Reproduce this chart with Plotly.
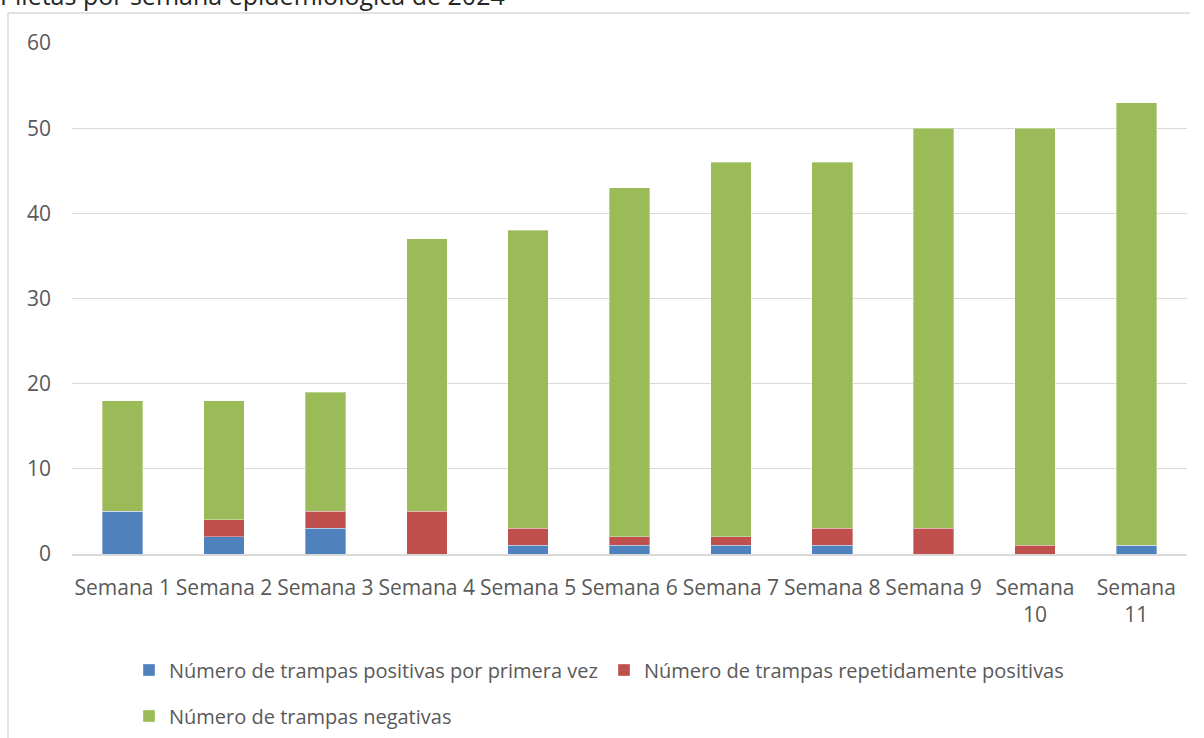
import plotly.graph_objects as go

# datos por semana epidemiologica
semanas = ["Semana 1", "Semana 2", "Semana 3", "Semana 4", "Semana 5", "Semana 6",
           "Semana 7", "Semana 8", "Semana 9", "Semana 10", "Semana 11"]
positivas_primera = [5, 2, 3, 0, 1, 1, 1, 1, 0, 0, 1]
positivas_repetidas = [0, 2, 2, 5, 2, 1, 1, 2, 3, 1, 0]
negativas = [13, 14, 14, 32, 35, 41, 44, 43, 47, 49, 52]

y_ticks = [0, 10, 20, 30, 40, 50, 60]

# las semanas de dos cifras se parten en dos lineas como en el original
tick_text = [s.replace(" ", "<br>") if len(s) > 8 else s for s in semanas]

FONT = "Open Sans"
GRIS = "#595959"
BORDE = "#d9d9d9"

fig = go.Figure()
fig.add_trace(go.Bar(x=semanas, y=positivas_primera,
                     name="Número de trampas positivas por primera vez",
                     marker=dict(color="#4F81BD", line=dict(color="rgba(255,255,255,0.35)", width=1)),
                     legend="legend"))
fig.add_trace(go.Bar(x=semanas, y=positivas_repetidas,
                     name="Número de trampas repetidamente positivas",
                     marker=dict(color="#C0504D", line=dict(color="rgba(255,255,255,0.35)", width=1)),
                     legend="legend"))
fig.add_trace(go.Bar(x=semanas, y=negativas,
                     name="Número de trampas negativas",
                     marker=dict(color="#9BBB59", line=dict(color="rgba(255,255,255,0.35)", width=1)),
                     legend="legend2"))

# area del grafico fija en pixeles
L, R, T, B = 72, 17, 43, 184
pw, ph = 1204 - L - R, 738 - T - B
def px(x):
    return (x - L) / pw
def py(y):
    return (738 - B - y) / ph

# marco del grafico (solo borde izquierdo y superior se ven)
fig.add_shape(type="line", xref="paper", yref="paper",
              x0=px(8), x1=px(1190), y0=py(13), y1=py(13),
              line=dict(color=BORDE, width=1.5))
fig.add_shape(type="line", xref="paper", yref="paper",
              x0=px(8), x1=px(8), y0=py(13), y1=py(745),
              line=dict(color=BORDE, width=1.5))

# titulo cortado arriba como en la captura
fig.add_annotation(text="Piletas por semana epidemiológica de 2024",
                   xref="paper", yref="paper", x=px(-2), y=py(14),
                   xanchor="left", yanchor="bottom", showarrow=False,
                   font=dict(family=FONT, size=25, color="#262626"))

fig.update_layout(
    width=1204, height=738,
    barmode="stack", bargap=0.6,
    plot_bgcolor="white", paper_bgcolor="white",
    margin=dict(l=L, r=R, t=T, b=B, autoexpand=False),
    font=dict(family=FONT, size=20, color=GRIS),
    showlegend=True,
    xaxis=dict(tickmode="array", tickvals=semanas, ticktext=tick_text,
               showgrid=False, showline=True, linecolor=BORDE, linewidth=1.5,
               ticks="", ticklabelstandoff=14, automargin=False,
               tickfont=dict(size=21, color=GRIS)),
    yaxis=dict(range=[0, 60], tickvals=y_ticks, showgrid=True,
               gridcolor=BORDE, gridwidth=1.3, zeroline=False,
               showline=False, ticks="", ticklabelstandoff=20, automargin=False,
               tickfont=dict(size=21, color=GRIS)),
    legend=dict(orientation="h", x=px(129), xanchor="left", y=py(670), yanchor="middle",
                font=dict(size=20, color=GRIS), itemclick=False, bgcolor="rgba(0,0,0,0)",
                entrywidth=430, entrywidthmode="pixels", traceorder="normal"),
    legend2=dict(orientation="h", x=px(129), xanchor="left", y=py(716), yanchor="middle",
                 font=dict(size=20, color=GRIS), bgcolor="rgba(0,0,0,0)"),
)

# sin el margen por defecto del body para que el grafico ocupe toda la ventana
fig.write_html("out.html", config={"displayModeBar": False},
               post_script="document.body.style.margin='0';")
